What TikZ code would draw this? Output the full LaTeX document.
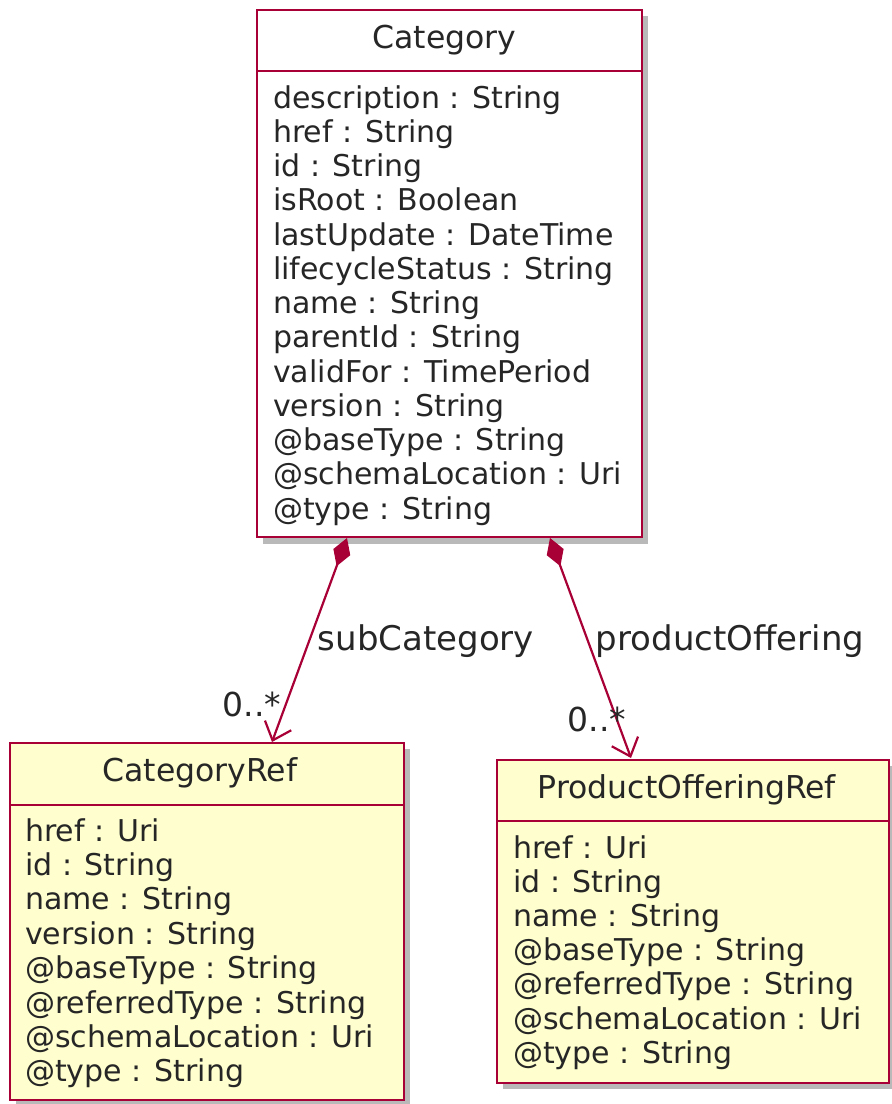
\documentclass[tikz,border=0pt]{standalone}
\usepackage{fontspec}
\setmainfont{DejaVu Sans}
\usetikzlibrary{arrows.meta,calc}
\definecolor{umlborder}{HTML}{A80036}
\definecolor{umlfill}{HTML}{FEFECE}
\definecolor{umlshadow}{HTML}{A8A8A8}
\begin{document}
\begin{tikzpicture}[x=1pt,y=-1pt,
  classbox/.style={draw=umlborder,line width=2.8pt,inner sep=0pt,outer sep=0pt,anchor=north west},
  divline/.style={draw=umlborder,line width=2.8pt},
  titletext/.style={font=\fontsize{31.5}{36}\selectfont,text=black!85,inner sep=0pt},
  attrtext/.style={font=\fontsize{30}{34}\selectfont,text=black!85,inner sep=0pt,anchor=west,text height=22pt,text depth=6pt},
  labeltext/.style={font=\fontsize{34}{38}\selectfont,text=black!85,inner sep=0pt},
  multtext/.style={font=\fontsize{33}{38}\selectfont,text=black!85,inner sep=0pt},
  assoc/.style={draw=umlborder,line width=2.2pt,
    {Diamond[length=30pt,width=18pt,fill=umlborder]}-{Straight Barb[length=16pt,width=28pt,line width=2.2pt]}}]
\useasboundingbox (0,0) rectangle (892,1104);
% shadows
\fill[umlshadow!80] (263,16) rectangle (648,544);
\fill[umlshadow!80] (16,749) rectangle (410,1104);
\fill[umlshadow!80] (503,766) rectangle (895,1089);
% Category
\node[classbox,fill=white,minimum width=385pt,minimum height=527pt] (cat) at (257,10) {};
\draw[divline] ($(cat.north west)+(0,61)$) -- ($(cat.north east)+(0,61)$);
\node[titletext] (cattitle) at ($(cat.north)+(-5,30)$) {Category};
\foreach \t [count=\i from 0] in {description : String,href : String,id : String,isRoot : Boolean,lastUpdate : DateTime,lifecycleStatus : String,name : String,parentId : String,validFor : TimePeriod,version : String,@baseType : String,@schemaLocation : Uri,@type : String}
  \node[attrtext] (cata\i) at ($(cat.north west)+(16,90+34.25*\i)$) {\t};
% CategoryRef
\node[classbox,fill=umlfill,minimum width=394pt,minimum height=357pt] (cref) at (10,743) {};
\draw[divline] ($(cref.north west)+(0,62)$) -- ($(cref.north east)+(0,62)$);
\node[titletext] (creftitle) at ($(cref.north)+(-7,30)$) {CategoryRef};
\foreach \t [count=\i from 0] in {href : Uri,id : String,name : String,version : String,@baseType : String,@referredType : String,@schemaLocation : Uri,@type : String}
  \node[attrtext] (crefa\i) at ($(cref.north west)+(15,90+34.4*\i)$) {\t};
% ProductOfferingRef
\node[classbox,fill=umlfill,minimum width=392pt,minimum height=323pt] (por) at (497,760) {};
\draw[divline] ($(por.north west)+(0,61)$) -- ($(por.north east)+(0,61)$);
\node[titletext] (portitle) at ($(por.north)+(-6,30)$) {ProductOfferingRef};
\foreach \t [count=\i from 0] in {href : Uri,id : String,name : String,@baseType : String,@referredType : String,@schemaLocation : Uri,@type : String}
  \node[attrtext] (pora\i) at ($(por.north west)+(16,90+34.2*\i)$) {\t};
% connectors
\coordinate (d1) at ($(cat.south west)+(90,1)$);
\coordinate (t1) at ($(cref.north west)+(262,-1)$);
\coordinate (d2) at ($(cat.south west)+(293,1)$);
\coordinate (t2) at ($(por.north west)+(134,-2)$);
\draw[assoc] (d1) -- (t1);
\draw[assoc] (d2) -- (t2);
\node[labeltext] (l1) at (426,641) {subCategory};
\node[labeltext] (l2) at (730,641) {productOffering};
\node[multtext] (m1) at (252,704) {0..*};
\node[multtext] (m2) at (597,719) {0..*};
\end{tikzpicture}
\end{document}
